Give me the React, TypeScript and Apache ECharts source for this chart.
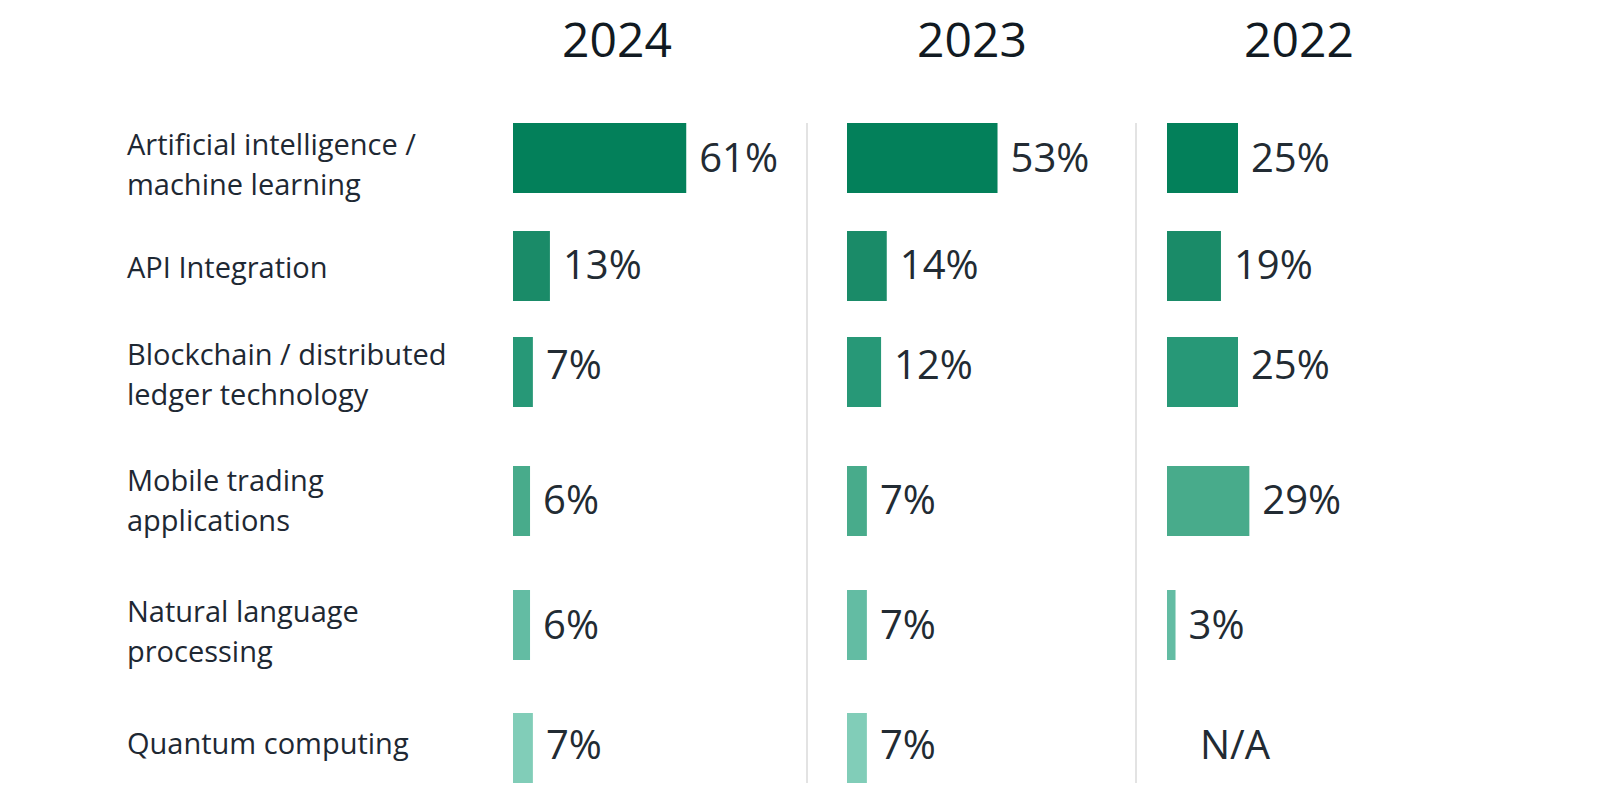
import React, { useEffect, useRef } from "react";
import * as echarts from "echarts";

// ---- Data ----
const categories = [
  "Artificial intelligence /\nmachine learning",
  "API Integration",
  "Blockchain / distributed\nledger technology",
  "Mobile trading\napplications",
  "Natural language\nprocessing",
  "Quantum computing",
];
const years = ["2024", "2023", "2022"];
const values2024: (number | null)[] = [61, 13, 7, 6, 6, 7];
const values2023: (number | null)[] = [53, 14, 12, 7, 7, 7];
const values2022: (number | null)[] = [25, 19, 25, 29, 3, null];
const naLabel = "N/A";

// ---- Styles / layout ----
const rowColors = ["#03805a", "#1a8b68", "#279877", "#48ab8b", "#63bca3", "#81cdb8"];
const colBarLeft = [513, 847, 1167];
const colTitleX = [617, 972, 1299];
const rowTop = [123, 231, 337, 466, 590, 713];
const rowHeight = 70;
const barAreaWidth = 284;
const separatorX = [807, 1136];
const catLabelDy = [5, 0, 1, -2, 5, -6];
const valueLabelDy = [-2, -3, -9, -3, -2, -5];
const FONT = "'Open Sans', 'Noto Sans', sans-serif";

export default function App() {
  const ref = useRef<HTMLDivElement>(null);

  useEffect(() => {
    if (!ref.current) return;
    const chart = echarts.init(ref.current, undefined, { renderer: "svg" });
    const columns = [values2024, values2023, values2022];

    const grid: any[] = [];
    const xAxis: any[] = [];
    const yAxis: any[] = [];
    const series: any[] = [];

    // bar grids: one per (year, category)
    columns.forEach((vals, c) => {
      vals.forEach((v, r) => {
        const idx = grid.length;
        grid.push({
          left: colBarLeft[c],
          top: rowTop[r],
          width: barAreaWidth,
          height: rowHeight,
          containLabel: false,
        });
        xAxis.push({ gridIndex: idx, type: "value", min: 0, max: 100, show: false });
        yAxis.push({
          gridIndex: idx,
          type: "category",
          data: [categories[r]],
          axisLine: { show: false },
          axisTick: { show: false },
          splitLine: { show: false },
          axisLabel: { show: false },
        });
        const item: any =
          v == null ? { value: 0, na: true, label: { distance: 33 } } : { value: v };
        series.push({
          type: "bar",
          xAxisIndex: idx,
          yAxisIndex: idx,
          barWidth: "100%",
          data: [item],
          itemStyle: { color: rowColors[r] },
          label: {
            show: true,
            position: "right",
            distance: 13,
            offset: [0, valueLabelDy[r]],
            fontFamily: FONT,
            fontSize: 40,
            color: "#222b33",
            formatter: (p: any) => (p.data && p.data.na ? naLabel : p.value + "%"),
          },
        });
      });
    });

    // label grids: category axis labels, nudged vertically per row
    categories.forEach((cat, r) => {
      const idx = grid.length;
      grid.push({
        left: colBarLeft[0],
        top: rowTop[r] + catLabelDy[r],
        width: barAreaWidth,
        height: rowHeight,
        containLabel: false,
      });
      xAxis.push({ gridIndex: idx, type: "value", min: 0, max: 100, show: false });
      yAxis.push({
        gridIndex: idx,
        type: "category",
        data: [cat],
        axisLine: { show: false },
        axisTick: { show: false },
        splitLine: { show: false },
        axisLabel: {
          show: true,
          margin: colBarLeft[0] - 127,
          align: "left",
          verticalAlign: "middle",
          fontFamily: FONT,
          fontSize: 29,
          lineHeight: 40,
          color: "#1e2833",
        },
      });
    });

    const graphic: any[] = [];
    years.forEach((y, c) => {
      graphic.push({
        type: "text",
        x: colTitleX[c],
        y: 38,
        style: {
          text: y,
          fontFamily: FONT,
          fontSize: 48,
          fill: "#111a22",
          textAlign: "center",
          textVerticalAlign: "middle",
        },
      });
    });
    separatorX.forEach((x) => {
      graphic.push({
        type: "line",
        shape: { x1: x, y1: rowTop[0], x2: x, y2: rowTop[5] + rowHeight },
        style: { stroke: "#e3e3e3", lineWidth: 2 },
      });
    });

    chart.setOption({
      animation: false,
      backgroundColor: "#ffffff",
      grid,
      xAxis,
      yAxis,
      series,
      graphic,
    });

    const onResize = () => chart.resize();
    window.addEventListener("resize", onResize);
    return () => {
      window.removeEventListener("resize", onResize);
      chart.dispose();
    };
  }, []);

  return (
    <div
      ref={ref}
      style={{ position: "fixed", left: 0, top: 0, width: "1600px", height: "806px" }}
    />
  );
}
